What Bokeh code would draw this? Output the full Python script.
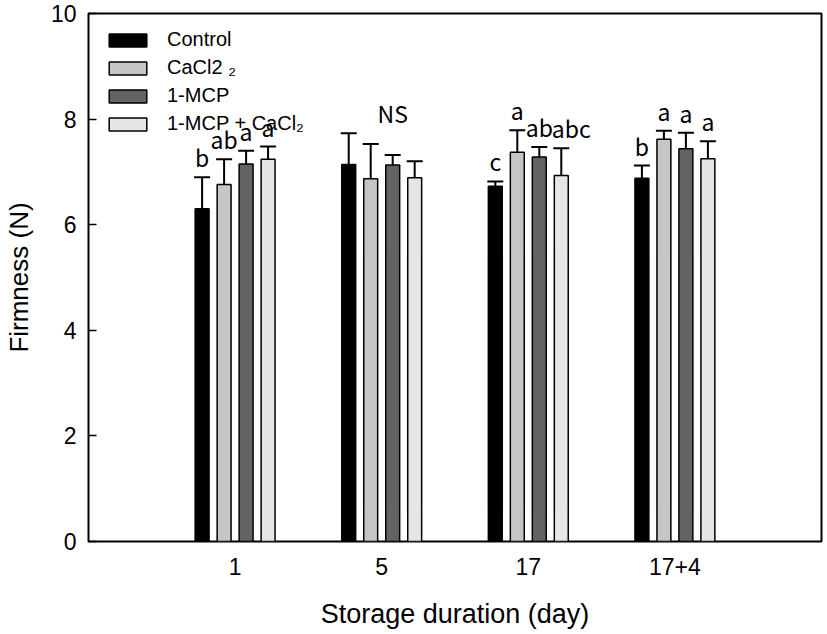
from bokeh.plotting import figure
from bokeh.models import (Range1d, FixedTicker, Whisker, TeeHead, ColumnDataSource,
                          Legend, LegendItem)
from bokeh.embed import file_html
from bokeh.resources import INLINE
from bokeh.core.properties import value

# ---------------- data ----------------
days = ["1", "5", "17", "17+4"]
treatments = ["Control", "CaCl2 \u2082", "1-MCP", "1-MCP + CaCl\u2082"]

control = [6.30, 7.14, 6.73, 6.88]
control_err = [0.60, 0.59, 0.09, 0.24]
cacl2 = [6.76, 6.87, 7.37, 7.62]
cacl2_err = [0.48, 0.66, 0.42, 0.16]
mcp = [7.15, 7.13, 7.28, 7.44]
mcp_err = [0.25, 0.19, 0.19, 0.30]
mcp_cacl2 = [7.24, 6.89, 6.93, 7.25]
mcp_cacl2_err = [0.24, 0.31, 0.52, 0.33]

letters_control = ["b", "", "c", "b"]
letters_cacl2 = ["ab", "", "a", "a"]
letters_mcp = ["a", "", "ab", "a"]
letters_mcp_cacl2 = ["a", "", "abc", "a"]
group_notes = ["", "NS", "", ""]

series_values = [control, cacl2, mcp, mcp_cacl2]
series_errors = [control_err, cacl2_err, mcp_err, mcp_cacl2_err]
series_letters = [letters_control, letters_cacl2, letters_mcp, letters_mcp_cacl2]

# ---------------- styles ----------------
colors = ["#000000", "#c6c6c6", "#636363", "#e6e6e6"]
offsets = [-0.225, -0.075, 0.075, 0.225]
bar_width = 0.095
letter_nudge = {(3, 2): 10}   # (series, group) -> px shift to avoid overlap
FONT = "Liberation Sans"
LFONT = "Noto Sans CJK KR"

group_x = list(range(1, len(days) + 1))

p = figure(width=827, height=634, output_backend="svg", toolbar_location=None,
           x_range=Range1d(0, 5), y_range=Range1d(0, 10),
           min_border_left=88, min_border_right=6, min_border_top=13, min_border_bottom=93)
p.background_fill_color = "white"
p.border_fill_color = "white"
p.outline_line_color = "black"
p.outline_line_width = 2
p.xgrid.visible = False
p.ygrid.visible = False

# axes
p.xaxis.ticker = FixedTicker(ticks=group_x)
p.xaxis.major_label_overrides = {x: d for x, d in zip(group_x, days)}
p.xaxis.major_tick_line_color = None
p.xaxis.minor_tick_line_color = None
p.xaxis.axis_line_color = None
p.xaxis.major_label_text_font = FONT
p.xaxis.major_label_text_font_size = "23px"
p.xaxis.major_label_text_color = "black"
p.xaxis.major_label_standoff = 10
p.xaxis.axis_label = "Storage duration (day)"
p.xaxis.axis_label_text_font = FONT
p.xaxis.axis_label_text_font_size = "27px"
p.xaxis.axis_label_text_font_style = "normal"
p.xaxis.axis_label_text_color = "black"
p.xaxis.axis_label_standoff = 21

p.yaxis.ticker = FixedTicker(ticks=[0, 2, 4, 6, 8, 10])
p.yaxis.major_tick_in = 8
p.yaxis.major_tick_out = 0
p.yaxis.major_tick_line_width = 1.5
p.yaxis.minor_tick_line_color = None
p.yaxis.axis_line_color = None
p.yaxis.major_label_text_font = FONT
p.yaxis.major_label_text_font_size = "23px"
p.yaxis.major_label_text_color = "black"
p.yaxis.major_label_standoff = 12
p.yaxis.axis_label = "Firmness (N)"
p.yaxis.axis_label_text_font = FONT
p.yaxis.axis_label_text_font_size = "26px"
p.yaxis.axis_label_text_font_style = "normal"
p.yaxis.axis_label_text_color = "black"
p.yaxis.axis_label_standoff = 14

legend_items = []
for s, (vals, errs, lets) in enumerate(zip(series_values, series_errors, series_letters)):
    xs = [g + offsets[s] for g in group_x]
    tops = [v + e for v, e in zip(vals, errs)]
    src = ColumnDataSource(dict(
        x=xs, v=vals, top=tops, lab=lets,
        dx=[letter_nudge.get((s, i), 0) for i in range(len(vals))]))
    r = p.vbar(x="x", top="v", bottom=0, width=bar_width, source=src,
               fill_color=colors[s], line_color="black", line_width=1.5)
    legend_items.append(LegendItem(label=treatments[s], renderers=[r]))
    w = Whisker(base="x", upper="top", lower="v", source=src, dimension="height",
                line_color="black", line_width=2,
                upper_head=TeeHead(size=16, line_color="black", line_width=2),
                lower_head=None)
    p.add_layout(w)
    p.text(x="x", y="top", text="lab", source=src, x_offset="dx", y_offset=-3,
           text_align="center", text_baseline="bottom",
           text_font=value(LFONT), text_font_size="23px", text_color="black")

# group-level note (NS)
note_y = [max(series_values[s][i] + series_errors[s][i] for s in range(4)) for i in range(len(days))]
note_src = ColumnDataSource(dict(x=[g + offsets[2] for g in group_x], y=note_y, t=group_notes))
p.text(x="x", y="y", text="t", source=note_src, y_offset=-3,
       text_align="center", text_baseline="bottom",
       text_font=value(LFONT), text_font_size="23px", text_color="black")

legend = Legend(items=legend_items, location=(16, 406), orientation="vertical",
                background_fill_alpha=0, border_line_color=None,
                margin=0, padding=0, spacing=5, label_standoff=16,
                glyph_width=47, glyph_height=16, label_height=23,
                label_text_font=FONT, label_text_font_size="20px", label_text_color="black")
p.add_layout(legend)

open("out.html", "w").write(file_html(p, INLINE))
